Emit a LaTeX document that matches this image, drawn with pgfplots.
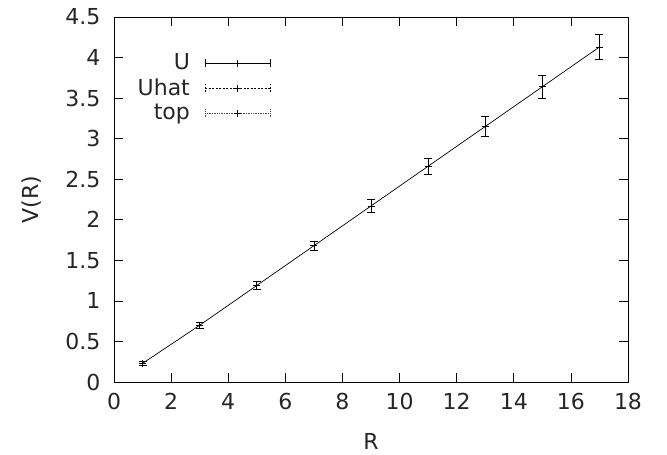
\documentclass[border=0pt]{standalone}
\usepackage{pgfplots}
\pgfplotsset{compat=1.18}
\usepackage{fontspec}
\setmainfont{DejaVu Sans}
\pgfplotstableread{
R V e
1 0.23 0.030
3 0.70 0.035
5 1.19 0.045
7 1.68 0.060
9 2.17 0.080
11 2.66 0.100
13 3.15 0.120
15 3.64 0.140
17 4.13 0.157
}\data
\begin{document}
\fontsize{22}{26}\selectfont
\begin{tikzpicture}
\path[use as bounding box] (-114pt,-73pt) rectangle (553pt,382pt);
\begin{axis}[
  scale only axis, width=514pt, height=365pt,
  xmin=0, xmax=18, ymin=0, ymax=4.5,
  xtick distance=2, ytick distance=0.5,
  tick align=inside, major tick length=9pt,
  xtick pos=both, ytick pos=both,
  axis line style={line width=0.8pt}, tick style={line width=0.7pt, black},
  /pgf/number format/assume math mode=true,
  /pgf/number format/fixed,
  ticklabel style={font=\fontsize{22}{26}\selectfont, text=black!85},
  xticklabel style={yshift=-4pt},
  yticklabel style={xshift=-6pt},
  xlabel={R}, ylabel={V(R)},
  label style={font=\fontsize{22}{26}\selectfont, text=black!85},
  xlabel style={yshift=-8pt},
  ylabel style={yshift=9pt},
  legend style={draw=none, fill=none, at={(0.305,0.906)}, anchor=north east,
    font=\fontsize{22}{26}\selectfont, text=black!85, row sep=1.5pt, inner sep=0pt,
    /tikz/every odd column/.append style={column sep=13pt}},
  legend cell align=right, legend plot pos=right,
  legend image code/.code={
    \draw[#1] (0pt,0pt) -- (65pt,0pt);
    \draw[#1] (0pt,-4pt) -- (0pt,4pt) (65pt,-4pt) -- (65pt,4pt);
    \draw[solid,black,line width=0.6pt] (32.5pt,-3.5pt) -- (32.5pt,3.5pt) (29pt,0pt) -- (36pt,0pt);
  },
]
\addplot[black, line width=0.7pt, mark=+, mark size=3.5pt, mark options={solid},
  error bars/.cd, y dir=both, y explicit,
  error bar style={line width=0.7pt, black},
  error mark options={rotate=90, mark size=4pt, line width=0.7pt, black}]
  table[x=R, y=V, y error=e] {\data};
\addlegendentry{U}
\addlegendimage{black, line width=0.6pt, dash pattern=on 2pt off 1.5pt}
\addlegendentry{Uhat}
\addlegendimage{black!70, line width=0.6pt, dash pattern=on 1pt off 0.7pt}
\addlegendentry{top}
\end{axis}
\end{tikzpicture}
\end{document}
